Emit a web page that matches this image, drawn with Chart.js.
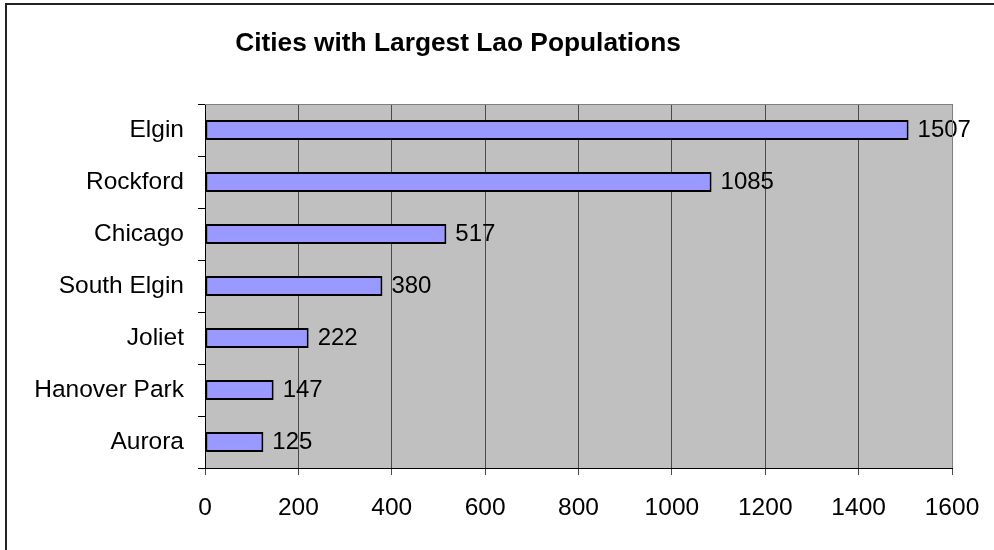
<!DOCTYPE html>
<html>
<head>
<meta charset="utf-8">
<script src="https://cdn.jsdelivr.net/npm/chart.js@4/dist/chart.umd.min.js"></script>
<style>
  html, body { margin: 0; padding: 0; background: #fff; }
  #wrap { position: relative; width: 994px; height: 550px; overflow: hidden; }
  #frame {
    position: absolute; left: 5px; top: 3px; width: 1000px; height: 545px;
    border-left: 2px solid #222; border-top: 2px solid #222; border-bottom: 1px solid #eee;
  }
  canvas { position: absolute; left: 0; top: 0; }
</style>
</head>
<body>
<div id="wrap">
  <div id="frame"></div>
  <canvas id="laoChart" width="994" height="550"></canvas>
</div>
<script>
const cities = ["Elgin", "Rockford", "Chicago", "South Elgin", "Joliet", "Hanover Park", "Aurora"];
const population = [1507, 1085, 517, 380, 222, 147, 125];
const chartTitle = "Cities with Largest Lao Populations";

const FONT = "'Liberation Sans', Arial, sans-serif";

// gray plot background + thin frame on top/right, like the old Excel look
const plotArea = {
  id: "plotArea",
  beforeDraw(chart) {
    const { ctx, chartArea: a } = chart;
    ctx.save();
    ctx.fillStyle = "#c0c0c0";
    ctx.fillRect(a.left, a.top, a.right - a.left, a.bottom - a.top);
    ctx.restore();
  },
  afterDraw(chart) {
    const { ctx, chartArea: a } = chart;
    ctx.save();
    ctx.strokeStyle = "#808080";
    ctx.lineWidth = 1;
    ctx.beginPath();
    ctx.moveTo(a.left, a.top + 0.5);
    ctx.lineTo(a.right + 0.5, a.top + 0.5);
    ctx.lineTo(a.right + 0.5, a.bottom);
    ctx.stroke();
    // title
    ctx.fillStyle = "#000";
    ctx.font = "bold 26.3px " + FONT;
    ctx.textAlign = "center";
    ctx.textBaseline = "middle";
    ctx.fillText(chartTitle, 458, 44);
    ctx.restore();
  },
};

// value next to each bar end
const barValues = {
  id: "barValues",
  afterDatasetsDraw(chart) {
    const { ctx } = chart;
    const meta = chart.getDatasetMeta(0);
    ctx.save();
    ctx.fillStyle = "#000";
    ctx.font = "24px " + FONT;
    ctx.textAlign = "left";
    ctx.textBaseline = "middle";
    meta.data.forEach((bar, i) => {
      ctx.fillText(String(population[i]), bar.x + 9, bar.y);
    });
    ctx.restore();
  },
};

const ctx = document.getElementById("laoChart");
// eslint-disable-next-line no-unused-vars
const myChart = new Chart(ctx, {
  type: "bar",
  data: {
    labels: cities,
    datasets: [
      {
        data: population,
        backgroundColor: "#9999ff",
        borderColor: "#000",
        borderWidth: 2,
        borderSkipped: false,
        barPercentage: 0.385,
        categoryPercentage: 1,
      },
    ],
  },
  options: {
    indexAxis: "y",
    responsive: false,
    animation: false,
    layout: { padding: { top: 104, right: 42, left: 0, bottom: 0 } },
    plugins: {
      legend: { display: false },
      title: { display: false },
      tooltip: { enabled: false },
    },
    scales: {
      x: {
        min: 0,
        max: 1600,
        afterFit: (scale) => {
          scale.height = 82;
          scale.paddingLeft = 0;
          scale.paddingRight = 0;
        },
        ticks: {
          stepSize: 200,
          color: "#000",
          padding: 19,
          font: { family: FONT, size: 24.5 },
          callback: (v) => String(v),
        },
        grid: { color: "#4a4a4a", lineWidth: 1, tickLength: 7, drawTicks: true },
        border: { color: "#000", width: 1 },
      },
      y: {
        afterFit: (scale) => { scale.width = 205; },
        ticks: {
          color: "#000",
          padding: 14,
          font: { family: FONT, size: 24.5 },
        },
        grid: {
          offset: true,
          drawOnChartArea: false,
          color: "#000",
          tickLength: 7,
        },
        border: { color: "#000", width: 1 },
      },
    },
  },
  plugins: [plotArea, barValues],
});
</script>
</body>
</html>
